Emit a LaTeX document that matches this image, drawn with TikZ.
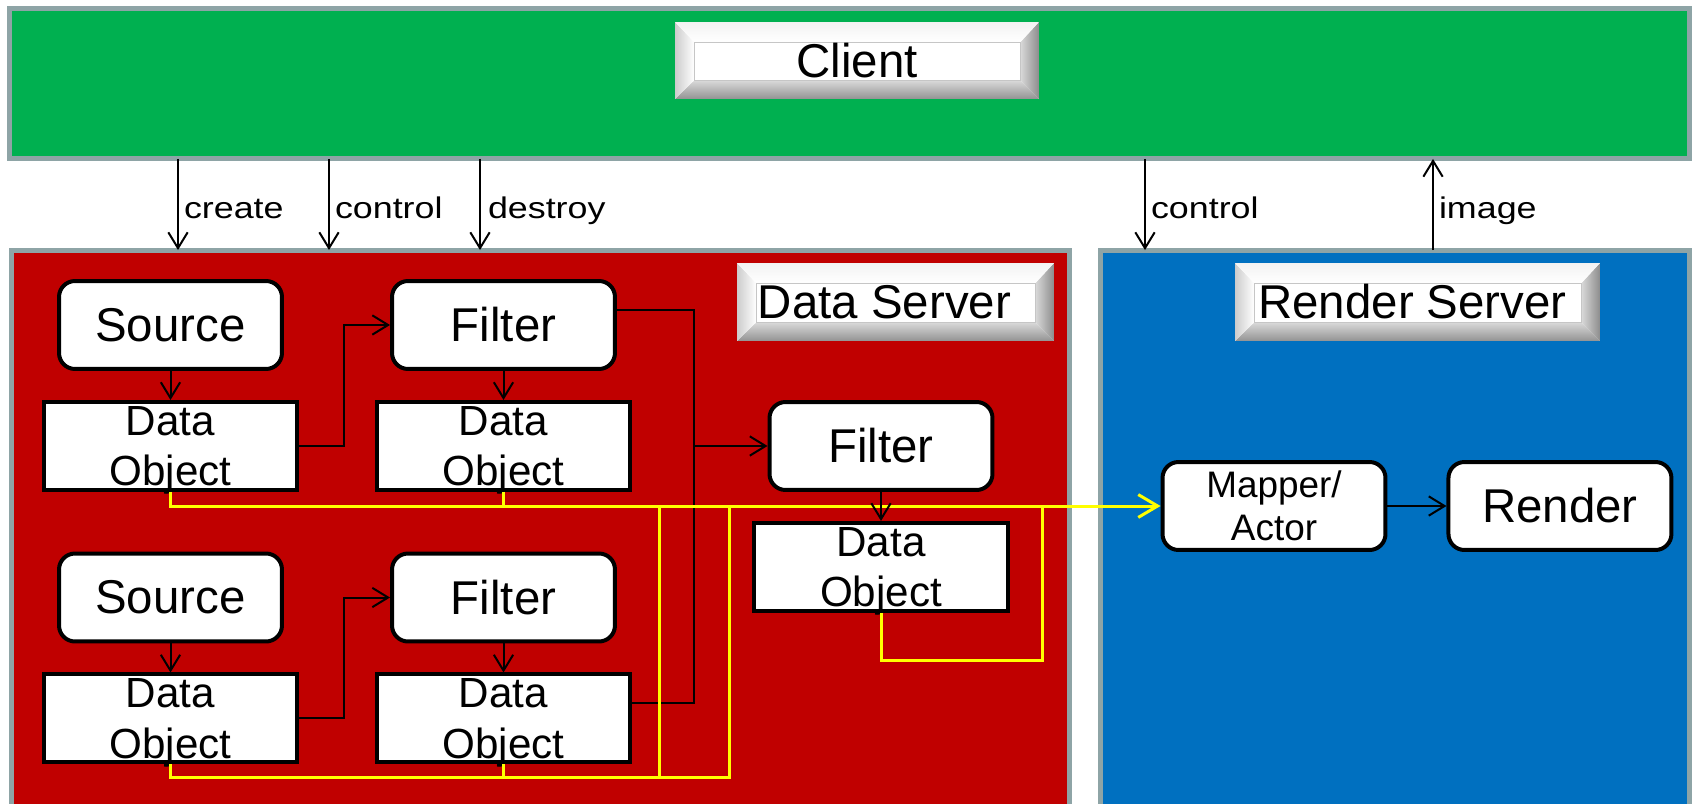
\documentclass[tikz,border=0pt]{standalone}
\usepackage{fontspec}
\setmainfont{Liberation Sans}
\newfontfamily\widesans[FakeStretch=1.2]{Liberation Sans}
\definecolor{ClientGreen}{HTML}{00B050}
\definecolor{DataRed}{HTML}{C00000}
\definecolor{RenderBlue}{HTML}{0070C0}
\definecolor{PanelGrey}{HTML}{8EA4A6}
\definecolor{BusYellow}{HTML}{FFFF00}
\usetikzlibrary{
  calc,
  positioning,
  arrows.meta
}

\begin{document}
\begin{tikzpicture}[
  x=0.02cm, y=-0.02cm,
  panel/.style  = {draw=PanelGrey, line width=0.1cm, outer sep=0pt, inner sep=0pt},
  bevel/.style  = {fill=white, minimum height=1.56cm, inner sep=0pt, outer sep=0pt,
                   font=\fontsize{27}{30}\selectfont,
                   path picture={
                     \coordinate (bsw) at (path picture bounding box.south west);
                     \coordinate (bse) at (path picture bounding box.south east);
                     \coordinate (bne) at (path picture bounding box.north east);
                     \coordinate (bnw) at (path picture bounding box.north west);
                     \coordinate (isw) at ($(bsw)+(0.38cm,0.37cm)$);
                     \coordinate (ise) at ($(bse)+(-0.37cm,0.37cm)$);
                     \coordinate (ine) at ($(bne)+(-0.37cm,-0.4cm)$);
                     \coordinate (inw) at ($(bnw)+(0.38cm,-0.4cm)$);
                     \shade[top color=gray!30, bottom color=gray!85] (bsw) -- (bse) -- (ise) -- (isw) -- cycle;
                     \shade[left color=gray!30, right color=gray!90] (bse) -- (bne) -- (ine) -- (ise) -- cycle;
                     \shade[left color=gray!40, right color=white] (bsw) -- (isw) -- (inw) -- (bnw) -- cycle;
                     \shade[top color=gray!10, bottom color=white] (bnw) -- (inw) -- (ine) -- (bne) -- cycle;
                     \draw[gray!45, line width=0.02cm] (isw) rectangle (ine);
                   }},
  block/.style  = {draw, fill=white, line width=0.08cm, rounded corners=0.32cm,
                   minimum width=4.46cm, minimum height=1.76cm, inner sep=0pt,
                   align=center, font=\fontsize{27}{30}\selectfont},
  dobj/.style   = {draw, fill=white, line width=0.08cm, minimum width=5.08cm,
                   minimum height=1.76cm, inner sep=0pt, align=center, text depth=0pt,
                   font=\fontsize{24}{28.5}\selectfont},
  arrow/.style  = {-{Straight Barb[length=9pt,width=11pt]}, line width=0.04cm},
  link/.style   = {line width=0.04cm},
  bus/.style    = {draw=BusYellow, line width=0.06cm},
  lbl/.style    = {anchor=base west, xshift=0.1cm, inner sep=0pt,
                   font=\widesans\fontsize{17}{20}\selectfont}
]
  \useasboundingbox (0,0) rectangle (1694,804);
  \clip (0,0) rectangle (1694,804);

  % Panels
  \node[panel, fill=ClientGreen, minimum width=33.62cm, minimum height=3.02cm] (client) at (849.5,83.5) {};
  \node[panel, fill=DataRed, minimum width=21.17cm, minimum height=11.6cm] (dserv) at (540.75,540) {};
  \node[panel, fill=RenderBlue, minimum width=11.8cm, minimum height=11.6cm] (rserv) at (1395,540) {};

  % Panel titles
  \node[bevel, minimum width=7.28cm, minimum height=1.54cm] (clientlbl) at (857,60.5) {Client};
  \node[bevel, minimum width=6.34cm] (dslbl) at (895.5,302) {\kern-0.44cm Data Server};
  \node[bevel, minimum width=7.3cm] (rslbl) at (1417.5,302) {\kern-0.2cm Render Server};

  % Client requests
  \draw[arrow] (client.south -| 178,0) -- (dserv.north -| 178,0) node[lbl, pos=0.65] {create};
  \draw[arrow] (client.south -| 329,0) -- (dserv.north -| 329,0) node[lbl, pos=0.65] {control};
  \draw[arrow] (client.south -| 480,0) -- (dserv.north -| 480,0) node[lbl, pos=0.65, xshift=0.04cm] {destroy};
  \draw[arrow] (client.south -| 1145,0) -- (rserv.north -| 1145,0) node[lbl, pos=0.65] {control};
  \draw[arrow] (rserv.north -| 1433,0) -- (client.south -| 1433,0) node[lbl, pos=0.35] {image};

  % Pipelines
  \node[block] (src1) at (170.5,325) {Source};
  \node[block] (filt1) at (503.5,325) {Filter};
  \node[dobj, below=0.58cm of src1] (dobj1) {Data\\Object};
  \node[dobj, below=0.58cm of filt1] (dobj2) {Data\\Object};

  \node[block] (src2) at (170.5,597.5) {Source};
  \node[block] (filt2) at (503.5,597.5) {Filter};
  \node[dobj, below=0.58cm of src2] (dobj3) {Data\\Object};
  \node[dobj, below=0.58cm of filt2] (dobj4) {Data\\Object};

  \node[block] (filt3) at (881,446) {Filter};
  \node[dobj, below=0.58cm of filt3] (dobj5) {Data\\Object};

  % Rendering
  \node[block, font=\fontsize{21}{24.5}\selectfont] (mapper) at (1274,506) {Mapper/\\Actor};
  \node[block, right=1.18cm of mapper] (render) {Render};

  % Black connectors
  \draw[arrow] (src1.south) -- (dobj1.north);
  \draw[arrow] (filt1.south) -- (dobj2.north);
  \draw[arrow] (src2.south) -- (dobj3.north);
  \draw[arrow] (filt2.south) -- (dobj4.north);
  \draw[arrow] (dobj1.east) -- ++(0.9cm,0) |- (filt1.west);
  \draw[arrow] (dobj3.east) -- ++(0.9cm,0) |- (filt2.west);
  \coordinate (jn) at ([xshift=-1.48cm]filt3.west);
  \draw[arrow] ([yshift=0.3cm]filt1.east) -| (jn) -- (filt3.west);
  \draw[link] ([yshift=0.3cm]dobj4.east) -| (jn);
  \draw[arrow] (mapper.east) -- (render.west);

  % Yellow data bus
  \coordinate (ya) at (659,777);
  \coordinate (yb) at (729,777);
  \coordinate (yc) at (1042,660);
  \draw[bus, -{Straight Barb[length=11pt,width=13pt]}] (dobj1.south) |- (mapper.west);
  \draw[bus] (dobj2.south) -- (dobj2.south |- mapper.west);
  \draw[bus] (dobj3.south) |- (yb) -- (yb |- mapper.west);
  \draw[bus] (dobj4.south) -- (dobj4.south |- ya);
  \draw[bus] (ya) -- (ya |- mapper.west);
  \draw[bus] (dobj5.south) |- (yc) -- (yc |- mapper.west);

  \draw[arrow] (filt3.south) -- (dobj5.north);

\end{tikzpicture}
\end{document}
